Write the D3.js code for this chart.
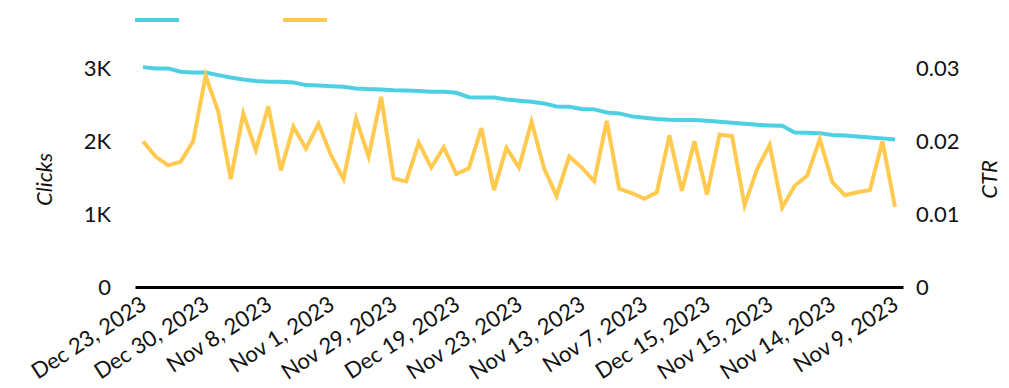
<!DOCTYPE html>
<html>
<head>
<meta charset="utf-8">
<script src="https://cdn.jsdelivr.net/npm/d3@7"></script>
<style>
  html, body { margin: 0; padding: 0; background: #fff; }
  svg { display: block; font-family: Lato, "Open Sans", sans-serif; }
</style>
</head>
<body>
<svg id="chart" width="1009" height="388"></svg>
<script>
// Daily clicks and click-through rate, Nov–Dec 2023, ordered by clicks (descending)
const dates = [
  "Dec 23, 2023", "Dec 24, 2023", "Dec 9, 2023", "Dec 16, 2023", "Dec 17, 2023",
  "Dec 30, 2023", "Dec 31, 2023", "Dec 10, 2023", "Dec 2, 2023", "Dec 3, 2023",
  "Nov 8, 2023", "Nov 4, 2023", "Nov 5, 2023", "Nov 11, 2023", "Nov 12, 2023",
  "Nov 1, 2023", "Nov 18, 2023", "Nov 19, 2023", "Nov 25, 2023", "Nov 26, 2023",
  "Nov 29, 2023", "Dec 22, 2023", "Dec 29, 2023", "Dec 1, 2023", "Dec 8, 2023",
  "Dec 19, 2023", "Dec 20, 2023", "Dec 21, 2023", "Dec 26, 2023", "Dec 27, 2023",
  "Nov 23, 2023", "Nov 24, 2023", "Nov 2, 2023", "Nov 3, 2023", "Nov 6, 2023",
  "Nov 13, 2023", "Nov 10, 2023", "Nov 16, 2023", "Nov 17, 2023", "Nov 20, 2023",
  "Nov 7, 2023", "Nov 21, 2023", "Nov 22, 2023", "Nov 27, 2023", "Nov 28, 2023",
  "Dec 15, 2023", "Nov 30, 2023", "Dec 4, 2023", "Dec 5, 2023", "Dec 6, 2023",
  "Nov 15, 2023", "Dec 7, 2023", "Dec 11, 2023", "Dec 12, 2023", "Dec 13, 2023",
  "Nov 14, 2023", "Dec 14, 2023", "Dec 18, 2023", "Dec 25, 2023", "Dec 28, 2023",
  "Nov 9, 2023"
];

const clicks = [
  3018, 3000, 3000, 2954, 2945, 2945, 2908, 2876, 2849, 2826,
  2816, 2816, 2808, 2771, 2767, 2757, 2748, 2725, 2716, 2712,
  2702, 2698, 2689, 2679, 2679, 2665, 2606, 2602, 2602, 2575,
  2556, 2542, 2520, 2479, 2473, 2442, 2438, 2396, 2383, 2342,
  2323, 2305, 2295, 2291, 2291, 2282, 2268, 2254, 2240, 2226,
  2218, 2213, 2122, 2117, 2112, 2085, 2081, 2067, 2053, 2040,
  2026
];

const ctr = [
  0.0200, 0.0179, 0.0167, 0.0172, 0.0200, 0.0290, 0.0241, 0.0148, 0.0238, 0.0188,
  0.0248, 0.0160, 0.0220, 0.0190, 0.0224, 0.0181, 0.0148, 0.0231, 0.0179, 0.0261,
  0.0149, 0.0145, 0.0198, 0.0164, 0.0192, 0.0155, 0.0163, 0.0218, 0.0133, 0.0191,
  0.0164, 0.0227, 0.0163, 0.0125, 0.0179, 0.0164, 0.0145, 0.0228, 0.0135, 0.0129,
  0.0121, 0.0130, 0.0208, 0.0132, 0.0200, 0.0127, 0.0209, 0.0207, 0.0112, 0.0162,
  0.0195, 0.0109, 0.0139, 0.0153, 0.0203, 0.0144, 0.0126, 0.0130, 0.0133, 0.0200,
  0.0110
];

const clickTicks = [0, 1000, 2000, 3000];
const clickTickLabels = ["0", "1K", "2K", "3K"];
const ctrTicks = [0, 0.01, 0.02, 0.03];
const ctrTickLabels = ["0", "0.01", "0.02", "0.03"];
const shownDates = dates.filter((d, i) => i % 5 === 0);

const colors = { clicks: "#4dd0e1", ctr: "#ffca4f" };

const svg = d3.select("#chart");
const x0 = 135, x1 = 903, yBase = 287, yTop = 32;

const x = d3.scalePoint().domain(dates).range([x0, x1]).padding(0.64);
const yL = d3.scaleLinear().domain([0, 3500]).range([yBase, yTop]);
const yR = d3.scaleLinear().domain([0, 0.035]).range([yBase, yTop]);

// Legend swatches
const legend = svg.append("g");
legend.append("line").attr("x1", 135).attr("x2", 179).attr("y1", 20).attr("y2", 20)
  .attr("stroke", colors.clicks).attr("stroke-width", 4);
legend.append("line").attr("x1", 283).attr("x2", 327).attr("y1", 20).attr("y2", 20)
  .attr("stroke", colors.ctr).attr("stroke-width", 4);

// Left axis (clicks)
const leftAxis = d3.axisLeft(yL).tickValues(clickTicks)
  .tickFormat((d, i) => clickTickLabels[i]).tickSize(0).tickPadding(0);
const gL = svg.append("g").attr("transform", `translate(111,0)`).call(leftAxis);
gL.select(".domain").remove();
gL.selectAll("text").attr("font-size", 22).attr("fill", "#111").attr("font-family", "Lato");

// Right axis (CTR)
const rightAxis = d3.axisRight(yR).tickValues(ctrTicks)
  .tickFormat((d, i) => ctrTickLabels[i]).tickSize(0).tickPadding(0);
const gR = svg.append("g").attr("transform", `translate(916,0)`).call(rightAxis);
gR.select(".domain").remove();
gR.selectAll("text").attr("font-size", 22).attr("fill", "#111").attr("font-family", "Lato");

// Axis titles
svg.append("text").attr("transform", `translate(52,${(yBase + yTop) / 2 + 20}) rotate(-90)`)
  .attr("text-anchor", "middle").attr("font-size", 22).attr("font-style", "italic")
  .attr("fill", "#111").text("Clicks");
svg.append("text").attr("transform", `translate(997,${(yBase + yTop) / 2 + 20}) rotate(-90)`)
  .attr("text-anchor", "middle").attr("font-size", 22).attr("font-style", "italic")
  .attr("fill", "#111").text("CTR");

// Bottom axis
const bottomAxis = d3.axisBottom(x).tickValues(shownDates).tickSize(0).tickPadding(0);
const gB = svg.append("g").attr("transform", `translate(0,${yBase})`).call(bottomAxis);
gB.select(".domain").attr("stroke", "#000").attr("stroke-width", 3);
gB.selectAll("text")
  .attr("font-size", 22).attr("fill", "#111").attr("font-family", "Lato")
  .attr("text-anchor", "end")
  .attr("y", null)
  .attr("transform", "translate(-4,8) rotate(-33)")
  .attr("dy", "0.71em");

// Series lines
const lineClicks = d3.line().x((d, i) => x(dates[i])).y(d => yL(d));
const lineCtr = d3.line().x((d, i) => x(dates[i])).y(d => yR(d));

svg.append("path").datum(clicks).attr("d", lineClicks)
  .attr("fill", "none").attr("stroke", colors.clicks).attr("stroke-width", 4)
  .attr("stroke-linejoin", "miter");
svg.append("path").datum(ctr).attr("d", lineCtr)
  .attr("fill", "none").attr("stroke", colors.ctr).attr("stroke-width", 4)
  .attr("stroke-linejoin", "miter");
</script>
</body>
</html>
